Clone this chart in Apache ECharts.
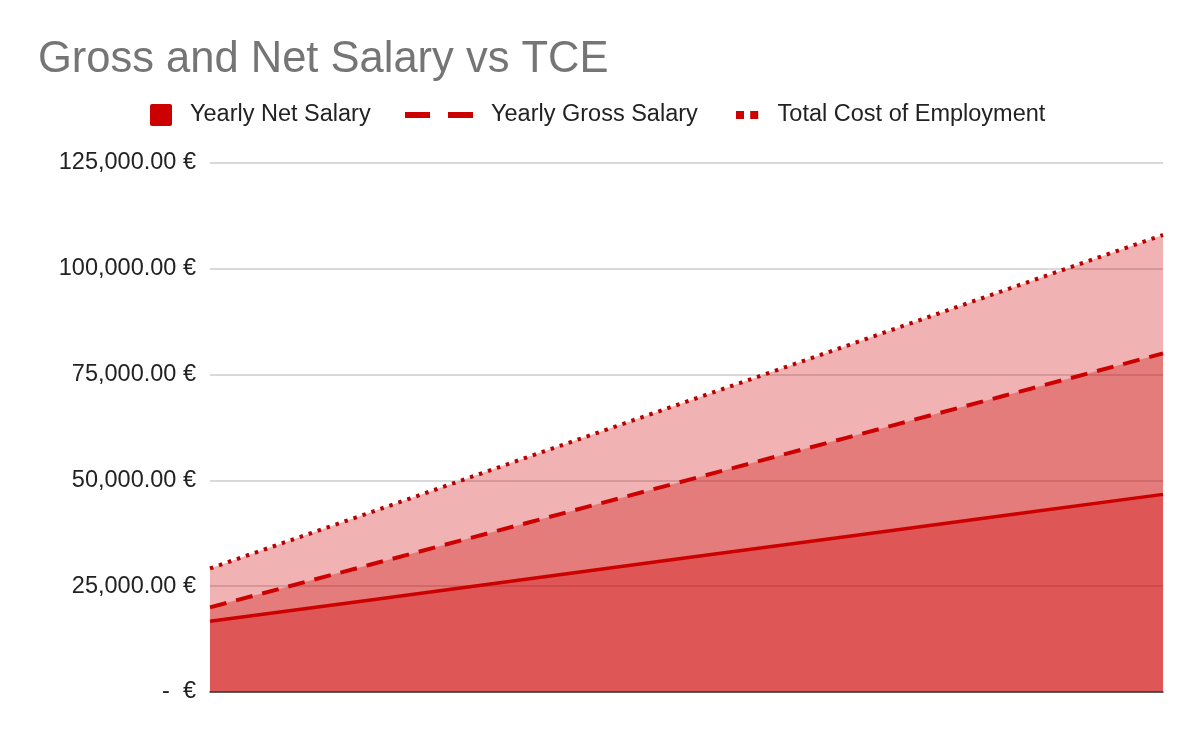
<!DOCTYPE html>
<html>
<head>
<meta charset="utf-8">
<script src="https://cdn.jsdelivr.net/npm/echarts@6/dist/echarts.min.js"></script>
<style>html,body{margin:0;padding:0;background:#fff}#c{width:1200px;height:742px}</style>
</head>
<body>
<div id="c"></div>
<script>
var categories = ['20,000', '30,000', '40,000', '50,000', '60,000', '70,000', '80,000'];
var netSalary = [16700, 21700, 26700, 31700, 36700, 41700, 46700];
var grossSalary = [20000, 30000, 40000, 50000, 60000, 70000, 80000];
var totalCost = [29200, 42300, 55500, 68600, 81700, 94900, 108000];
var yTicks = [0, 25000, 50000, 75000, 100000, 125000];

var RED = '#cc0000';
var FONT = 'Liberation Sans, Arial, sans-serif';
var chart = echarts.init(document.getElementById('c'), null, {renderer: 'canvas'});

function fmt(v) {
  if (v === 0) return '-  €';
  return v.toLocaleString('en-US', {minimumFractionDigits: 2, maximumFractionDigits: 2}) + ' €';
}

var legendText = {color: '#222', fontSize: 23.5, fontFamily: FONT, padding: [0, 0, 0, 13]};

chart.setOption({
  animation: false,
  backgroundColor: '#fff',
  title: {
    text: 'Gross and Net Salary vs TCE',
    left: 33, top: 33,
    textStyle: {color: '#757575', fontSize: 43.5, fontWeight: 'normal', fontFamily: FONT}
  },
  legend: [
    {data: [{name: 'Yearly Net Salary', icon: 'path://M2,0h18a2,2 0 0 1 2,2v18a2,2 0 0 1 -2,2h-18a2,2 0 0 1 -2,-2v-18a2,2 0 0 1 2,-2z'}],
     left: 150, top: 103, padding: 0, itemWidth: 22, itemHeight: 22, textStyle: legendText},
    {data: [{name: 'Yearly Gross Salary', icon: 'path://M0,0h25v6h-25z M43,0h25v6h-25z'}],
     left: 405, top: 103, padding: 0, itemWidth: 68, itemHeight: 6, textStyle: legendText},
    {data: [{name: 'Total Cost of Employment', icon: 'path://M0,0h9v9h-9z M16,0h9v9h-9z'}],
     left: 736, top: 103, padding: 0, itemWidth: 25, itemHeight: 8, textStyle: legendText}
  ],
  grid: {left: 210, right: 37, top: 163, bottom: 50, containLabel: false},
  xAxis: {
    type: 'category', data: categories, boundaryGap: false,
    axisLabel: {show: false}, axisTick: {show: false},
    axisLine: {lineStyle: {color: '#333', width: 1.5}},
    splitLine: {show: false}
  },
  yAxis: {
    type: 'value', min: 0, max: 125000, interval: 25000,
    axisLine: {show: false}, axisTick: {show: false},
    axisLabel: {color: '#222', fontSize: 23.5, fontFamily: FONT, margin: 14, padding: [3, 0, 0, 0], formatter: fmt},
    splitLine: {lineStyle: {color: '#cccccc', width: 1.5}}
  },
  series: [
    {name: 'Total Cost of Employment', type: 'line', data: totalCost, symbol: 'none', z: 2,
     itemStyle: {color: RED},
     lineStyle: {color: '#b80000', width: 4, type: [3.5, 6]},
     areaStyle: {color: RED, opacity: 0.3}},
    {name: 'Yearly Gross Salary', type: 'line', data: grossSalary, symbol: 'none', z: 3,
     itemStyle: {color: RED},
     lineStyle: {color: RED, width: 4, type: [17, 10]},
     areaStyle: {color: RED, opacity: 0.3}},
    {name: 'Yearly Net Salary', type: 'line', data: netSalary, symbol: 'none', z: 4,
     itemStyle: {color: RED},
     lineStyle: {color: RED, width: 3.5, type: 'solid'},
     areaStyle: {color: RED, opacity: 0.3}}
  ]
});
</script>
</body>
</html>
